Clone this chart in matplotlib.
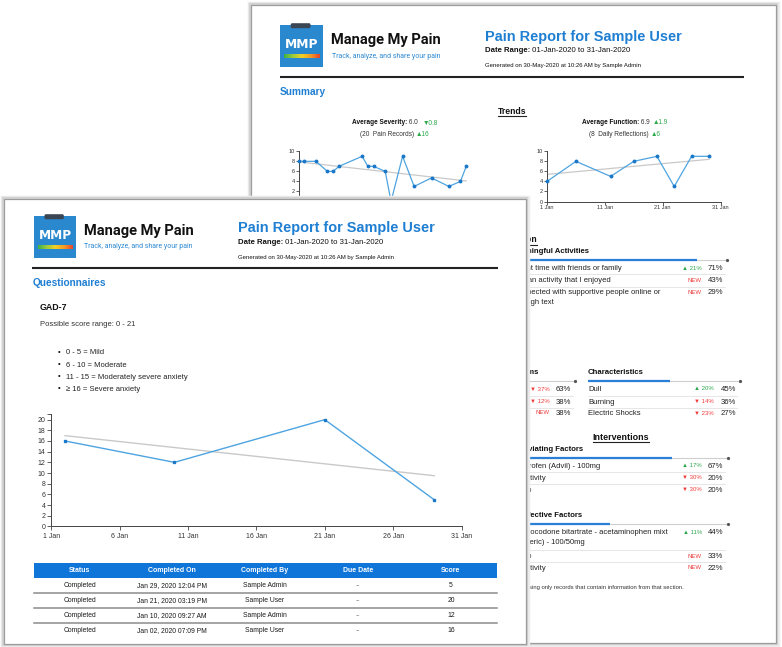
import matplotlib
matplotlib.use("Agg")
import matplotlib.pyplot as plt
from matplotlib.patches import Rectangle, FancyBboxPatch
from matplotlib.colors import LinearSegmentedColormap
import numpy as np

plt.rcParams['font.family'] = ['Liberation Sans', 'DejaVu Sans']

# ---------------- data ----------------
app_name = "Manage My Pain"
app_tagline = "Track, analyze, and share your pain"
report_title = "Pain Report for Sample User"
date_range = "01-Jan-2020 to 31-Jan-2020"
generated = "Generated on 30-May-2020 at 10:26 AM by Sample Admin"

sev_days = [1, 2, 4, 6, 7, 8, 12, 13, 14, 16, 17, 19, 21, 24, 27, 29, 30]
sev_vals = [8, 8, 8, 6, 6, 7, 9, 7, 7, 6, 0, 9, 3, 4.7, 3, 4, 7]
sev_trend_days = [1, 30]
sev_trend_vals = [7.9, 4.1]

fun_days = [1, 6, 12, 16, 20, 23, 26, 29]
fun_vals = [4, 8, 5, 8, 9, 3, 9, 9]
fun_trend_days = [1, 29]
fun_trend_vals = [5.4, 8.4]

trend_tick_days = [1, 11, 21, 31]
trend_tick_labels = ["1 Jan", "11 Jan", "21 Jan", "31 Jan"]
trend_yticks = [0, 2, 4, 6, 8, 10]

gad_days = [2, 10, 21, 29]
gad_scores = [16, 12, 20, 5]
gad_trend_days = [2, 29]
gad_trend_vals = [17.0, 9.5]
gad_tick_days = [1, 6, 11, 16, 21, 26, 31]
gad_tick_labels = ["1 Jan", "6 Jan", "11 Jan", "16 Jan", "21 Jan", "26 Jan", "31 Jan"]
gad_yticks = [0, 2, 4, 6, 8, 10, 12, 14, 16, 18, 20]
gad_max = 21
gad_ranges = ["0 - 5 = Mild", "6 - 10 = Moderate",
              "11 - 15 = Moderately severe anxiety", "\u2265 16 = Severe anxiety"]

table_cols = ["Status", "Completed On", "Completed By", "Due Date", "Score"]
table_status = ["Completed", "Completed", "Completed", "Completed"]
table_completed_on = ["Jan 29, 2020 12:04 PM", "Jan 21, 2020 03:19 PM",
                      "Jan 10, 2020 09:27 AM", "Jan 02, 2020 07:09 PM"]
table_completed_by = ["Sample Admin", "Sample User", "Sample Admin", "Sample User"]
table_due = ["--", "--", "--", "--"]
table_score = [5, 20, 12, 16]

act_names = ["Spent time with friends or family", "Did an activity that I enjoyed",
             "Connected with supportive people online or\nthrough text"]
act_change = ["\u25b2 21%", "NEW", "NEW"]
act_pct = [71, 43, 29]
act_cover = 0.86

sym_change = ["\u25bc 37%", "\u25bc 12%", "NEW"]
sym_pct = [63, 38, 38]

char_names = ["Dull", "Burning", "Electric Shocks"]
char_change = ["\u25b2 20%", "\u25bc 14%", "\u25bc 23%"]
char_pct = [45, 36, 27]
char_cover = 0.54

allev_names = ["Ibuprofen (Advil) - 100mg", "Activity", "Sleep"]
allev_change = ["\u25b2 17%", "\u25bc 30%", "\u25bc 30%"]
allev_pct = [67, 20, 20]
allev_cover = 0.74

ineff_names = ["Hydrocodone bitartrate - acetaminophen mixt\n(generic) - 100/50mg", "Sleep", "Activity"]
ineff_change = ["\u25b2 11%", "NEW", "NEW"]
ineff_pct = [44, 33, 22]
ineff_cover = 0.45

# ---------------- style ----------------
BLUE = "#1f7fd2"
LOGO = "#2a88cf"
LINE = "#4ea4e0"
MARK = "#1b78c8"
TREND = "#c9c9c9"
GREEN = "#2aa84a"
RED = "#f03a3a"
TXT = "#2b2b2b"

W, H = 782, 647
fig = plt.figure(figsize=(W / 100, H / 100), dpi=100)
fig.patch.set_facecolor("white")
R = fig.canvas.get_renderer()


def full_axes(z):
    ax = fig.add_axes([0, 0, 1, 1], zorder=z)
    ax.set_xlim(0, W)
    ax.set_ylim(H, 0)
    ax.axis("off")
    return ax


def px_axes(x0, y0, x1, y1, z):
    ax = fig.add_axes([x0 / W, 1 - y1 / H, (x1 - x0) / W, (y1 - y0) / H], zorder=z)
    ax.patch.set_facecolor("none")
    return ax


def width(t):
    return t.get_window_extent(R).width


def T(ax, x, y, s, size, color=TXT, weight="normal", ha="left", va="center", **kw):
    return ax.text(x, y, s, fontsize=size, color=color, fontweight=weight,
                   ha=ha, va=va, zorder=kw.pop("zorder", 5), **kw)


def fit(t, w):
    t.set_fontsize(t.get_fontsize() * w / width(t))
    return t


def seq(ax, x, y, parts, ha="left"):
    texts = []
    cx = x
    for s, size, color, weight in parts:
        t = T(ax, cx, y, s, size, color, weight)
        cx += width(t)
        texts.append(t)
    total = cx - x
    if ha == "center":
        for t in texts:
            t.set_x(t.get_position()[0] - total / 2)
    return texts


def page(ax, x0, y0, x1, y1):
    for pad, col, lw in [(2.0, "#ececec", 2.5), (1.0, "#d2d2d2", 1.6)]:
        ax.add_patch(Rectangle((x0 - pad, y0 - pad), x1 - x0 + 2 * pad, y1 - y0 + 2 * pad,
                               facecolor="none", edgecolor=col, lw=lw, zorder=0.5))
    ax.add_patch(Rectangle((x0, y0), x1 - x0, y1 - y0, facecolor="white",
                           edgecolor="#9c9c9c", lw=0.9, zorder=0.6))


grad_cmap = LinearSegmentedColormap.from_list(
    "mmp", ["#3fb04a", "#9ccc3c", "#f2d024", "#f59a23", "#e8452c"])


def logo(ax, x0, y0, x1, y1):
    w = x1 - x0
    h = y1 - y0
    ax.add_patch(Rectangle((x0, y0), w, h, facecolor=LOGO, edgecolor="none", zorder=1))
    ax.add_patch(FancyBboxPatch((x0 + w * 0.25, y0 - 1.8), w * 0.46, 5.0,
                                boxstyle="round,pad=0,rounding_size=1.5",
                                facecolor="#3a4654", edgecolor="none", zorder=2))
    t = T(ax, x0 + w * 0.5, y0 + h * 0.46, "MMP", 9, "white", "bold", ha="center",
          family=["DejaVu Sans"])
    fit(t, w * 0.78)
    grad = np.linspace(0, 1, 200).reshape(1, -1)
    ax.imshow(grad, cmap=grad_cmap, aspect="auto", zorder=2,
              extent=(x0 + w * 0.09, x1 - w * 0.09, y0 + h * 0.79, y0 + h * 0.70))
    ax.set_xlim(0, W)
    ax.set_ylim(H, 0)


def header(ax, lx, ly, tx, ty, rule_x0, rule_x1, rule_y):
    logo(ax, lx[0], ly[0], lx[1], ly[1])
    t = T(ax, lx[1] + 8, ly[0] + 15, app_name, 11, "#111111", "bold", family=["Roboto", "DejaVu Sans"])
    fit(t, 110)
    t = T(ax, lx[1] + 8.5, ly[0] + 31, app_tagline, 6, "#2f8ad3", family=["Roboto", "DejaVu Sans"])
    fit(t, 110)
    t = T(ax, tx, ty, report_title, 10.4, BLUE, "bold")
    fit(t, 196)
    seq(ax, tx, ty + 14.5, [("Date Range:", 5.6, "#111", "bold"), (" " + date_range, 5.6, "#111", "normal")])
    t = T(ax, tx, ty + 29, generated, 4.4, "#111")
    fit(t, 155)
    ax.plot([rule_x0, rule_x1], [rule_y, rule_y], color="#222222", lw=1.5, zorder=3,
            solid_capstyle="butt")


def style_axes(ax, size, tl, pad):
    for s in ("top", "right"):
        ax.spines[s].set_visible(False)
    for s in ("left", "bottom"):
        ax.spines[s].set_color("#444444")
        ax.spines[s].set_linewidth(0.7)
    ax.tick_params(axis="both", which="both", length=tl, width=0.6, color="#444444",
                   labelsize=size, labelcolor="#333333", pad=pad)


def trend_chart(ax, days, vals, tdays, tvals):
    ax.plot(tdays, tvals, color=TREND, lw=0.9, zorder=2)
    ax.plot(days, vals, color=LINE, lw=0.9, marker="o", ms=1.8, mfc=MARK, mec=MARK,
            zorder=3, clip_on=False)
    ax.set_xlim(1, 31)
    ax.set_ylim(0, 10)
    ax.set_xticks(trend_tick_days)
    ax.set_xticklabels(trend_tick_labels)
    ax.set_yticks(trend_yticks)
    style_axes(ax, 4.0, 2.2, 0.6)


def underline(ax, t, y, lw=0.8):
    bb = t.get_window_extent(R)
    ax.plot([bb.x0, bb.x1], [y, y], color="#222", lw=lw, zorder=5)


def section(ax, x0, x1, y, cover, title, title_right=None):
    if title_right is None:
        T(ax, x0, y - 8.5, title, 5.6, "#111", "bold")
    else:
        T(ax, title_right, y - 8.5, title, 5.6, "#111", "bold", ha="right")
    ax.plot([x0, x1], [y, y], color="#cfcfcf", lw=0.8, zorder=3)
    ax.plot([x0, x0 + (x1 - x0) * cover], [y, y], color="#2a7fd6", lw=1.6, zorder=4,
            solid_capstyle="butt")
    ax.plot([x1], [y], "o", ms=1.3, color="#555", zorder=4)


def rows(ax, x0, x1, ys, changes, pcts, ch_right, pct_left, seps):
    for i, y in enumerate(ys):
        c = changes[i]
        col = RED if (c == "NEW" or "\u25bc" in c) else GREEN
        T(ax, ch_right, y - 0.5, c, 4.3, col, ha="right")
        T(ax, pct_left, y, f"{pcts[i]}%", 5.6, "#222")
    for s in seps:
        ax.plot([x0, x1], [s, s], color="#e2e2e2", lw=0.6, zorder=3)


def names_col(ax, xs, ys, names):
    for x, y, n in zip(xs, ys, names):
        if "\n" in n:
            T(ax, x, y - 4.2, n, 5.5, "#222", va="top", linespacing=1.6)
        else:
            T(ax, x, y, n, 5.5, "#222")


# ================= BACK PAGE =================
ab = full_axes(0)
page(ab, 251, 5, 776, 643)
header(ab, (280, 323), (25, 66.5), 485, 36.5, 280, 744, 77)
T(ab, 280, 92, "Summary", 7.3, BLUE, "bold")
t = T(ab, 512, 111, "Trends", 6.2, "#111", "bold", ha="center")
underline(ab, t, 115.5)

seq(ab, 395, 123, [("Average Severity:", 4.7, "#111", "bold"), (" 6.0   ", 4.7, "#333", "normal"),
                   ("\u25bc0.8", 4.7, GREEN, "normal")], ha="center")
seq(ab, 395, 134, [("(20  Pain Records) ", 4.7, "#333", "normal"),
                   ("\u25b216", 4.7, GREEN, "normal")], ha="center")
seq(ab, 625, 123, [("Average Function:", 4.7, "#111", "bold"), (" 6.9  ", 4.7, "#333", "normal"),
                   ("\u25b21.9", 4.7, GREEN, "normal")], ha="center")
seq(ab, 625, 134, [("(8  Daily Reflections) ", 4.7, "#333", "normal"),
                   ("\u25b26", 4.7, GREEN, "normal")], ha="center")

a_sev = px_axes(298.5, 151.3, 472, 201.5, 1)
trend_chart(a_sev, sev_days, sev_vals, sev_trend_days, sev_trend_vals)
a_fun = px_axes(547, 151.3, 720.5, 201.5, 1)
trend_chart(a_fun, fun_days, fun_vals, fun_trend_days, fun_trend_vals)

t = T(ab, 537, 240, "Function", 6.2, "#111", "bold", ha="right")
underline(ab, t, 244.5)

section(ab, 512, 727, 260, act_cover, "Meaningful Activities")
act_y = [269, 281, 293]
names_col(ab, [513, 513.5, 513], act_y, act_names)
rows(ab, 512, 725, act_y, act_change, act_pct, 702, 708, [274, 286.7])

section(ab, 498, 575, 381, 0.3, "Symptoms", title_right=539.5)
sym_y = [389.5, 402, 413.5]
rows(ab, 498, 573, sym_y, sym_change, sym_pct, 550, 556, [396, 408])

section(ab, 588, 740, 381, char_cover, "Characteristics")
names_col(ab, [588, 588, 588], sym_y, char_names)
rows(ab, 588, 737, sym_y, char_change, char_pct, 714, 721, [396, 408])

t = T(ab, 621, 437, "Interventions", 6.4, "#111", "bold", ha="center")
underline(ab, t, 441.5)

section(ab, 514, 728, 458, allev_cover, "Alleviating Factors")
allev_y = [466, 478, 490]
names_col(ab, [514, 521.5, 513], allev_y, allev_names)
rows(ab, 512, 725, allev_y, allev_change, allev_pct, 702, 708, [472, 484])

section(ab, 514, 728, 524, ineff_cover, "Ineffective Factors")
ineff_y = [533, 556.6, 568]
names_col(ab, [514, 513, 521.5], ineff_y, ineff_names)
rows(ab, 512, 725, ineff_y, ineff_change, ineff_pct, 702, 708, [550, 562])

T(ab, 684, 588, "* Percentages calculated using only records that contain information from that section.",
  4.2, "#333", ha="right")

# ================= FRONT PAGE =================
af = full_axes(2)
page(af, 4, 199, 526, 644)
header(af, (34, 76), (216, 258), 238, 228, 32, 498, 267.6)
T(af, 33, 283, "Questionnaires", 7.3, BLUE, "bold")
T(af, 40, 308, "GAD-7", 6.4, "#111", "bold")
T(af, 40, 324, "Possible score range: 0 - 21", 5.5, "#333")
for i, s in enumerate(gad_ranges):
    y = 353 + i * 12.1
    T(af, 59, y - 0.8, "\u2022", 5.5, "#111", ha="center")
    T(af, 66, y, s, 5.5, "#222")

a_gad = px_axes(51.4, 414.3, 461.5, 526.4, 3)
a_gad.plot(gad_trend_days, gad_trend_vals, color=TREND, lw=1.0, zorder=2)
a_gad.plot(gad_days, gad_scores, color=LINE, lw=1.0, marker="s", ms=2.0, mfc=MARK, mec=MARK,
           zorder=3, clip_on=False)
a_gad.set_xlim(1, 31)
a_gad.set_ylim(0, gad_max)
a_gad.set_xticks(gad_tick_days)
a_gad.set_xticklabels(gad_tick_labels)
a_gad.set_yticks(gad_yticks)
a_gad.set_yticks([gad_max], minor=True)
style_axes(a_gad, 5.0, 3.2, 1.2)

# table
tx0, tx1 = 34, 497
af.add_patch(Rectangle((tx0, 563.4), tx1 - tx0, 14.6, facecolor="#0f75d8", edgecolor="none", zorder=2))
col_x = [80, 172, 265, 358, 451]
for cx, c in zip(col_x, table_cols):
    T(af, cx, 571, c, 5.0, "white", "bold", ha="center")
row_y = [585.4, 600.5, 615.8, 630.5]
cols = [table_status, table_completed_on, table_completed_by, table_due, table_score]
for j, y in enumerate(row_y):
    for cx, colvals in zip(col_x, cols):
        v = str(colvals[j])
        T(af, cx, y, v, 4.9, "#888" if v == "--" else "#1a1a1a", ha="center")
for s in [592.8, 607.8, 622.9]:
    af.plot([tx0, tx1], [s, s], color="#8c8c8c", lw=1.1, zorder=3)

fig.savefig("out.png", dpi=100, facecolor="white")
